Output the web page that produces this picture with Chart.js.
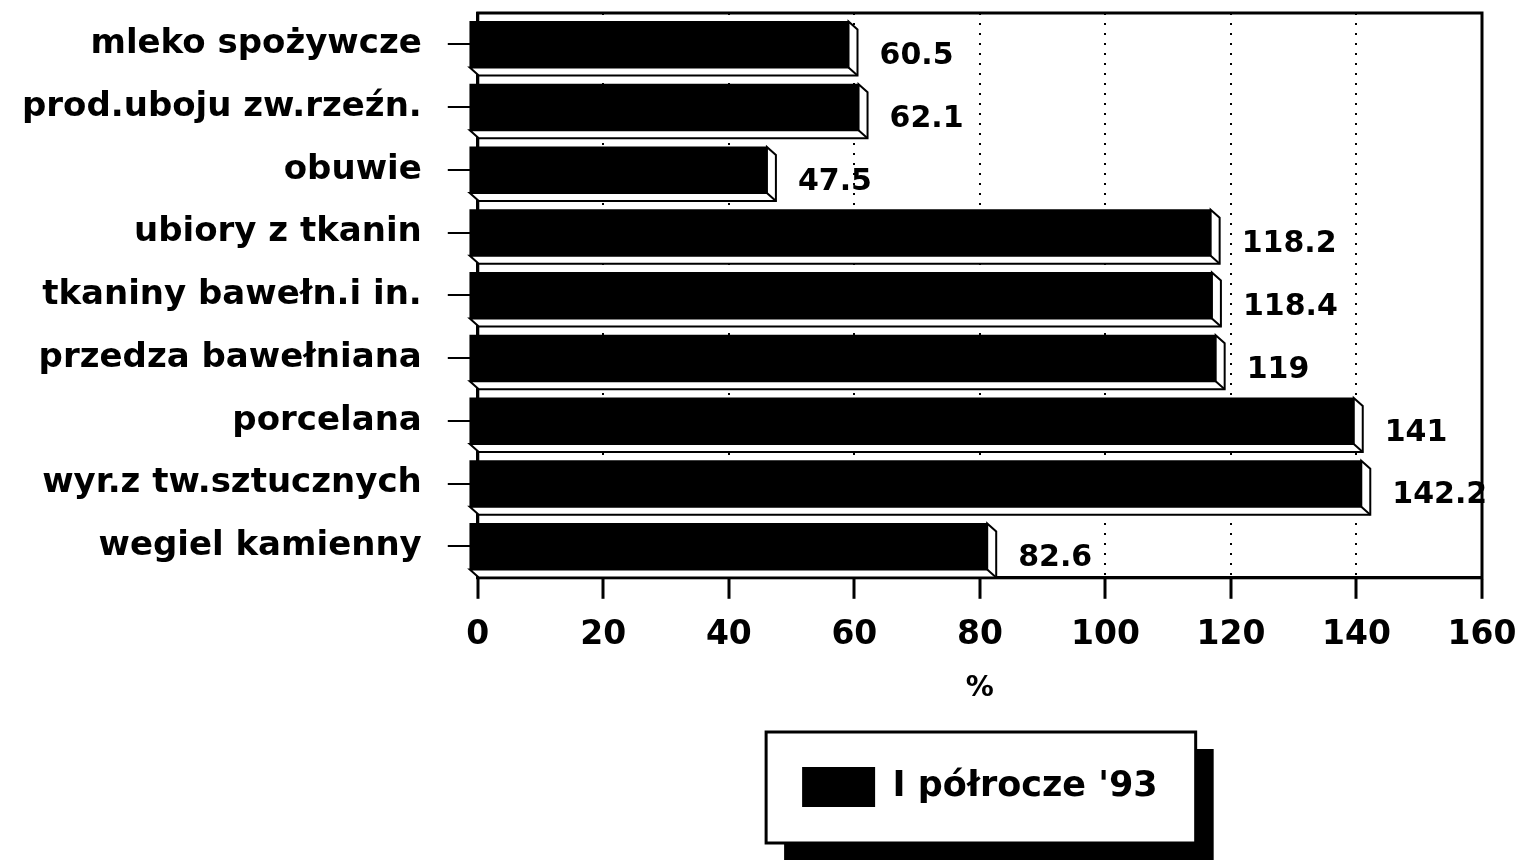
<!DOCTYPE html>
<html lang="pl">
<head>
<meta charset="utf-8">
<title>I półrocze '93</title>
<script src="https://cdn.jsdelivr.net/npm/chart.js@4.4.1/dist/chart.umd.min.js"></script>
<style>
  html, body { margin: 0; padding: 0; background: #fff; }
  #wrap { width: 1526px; height: 860px; position: relative; }
</style>
</head>
<body>
<div id="wrap"><canvas id="chart"></canvas></div>
<script>
// dane
const categories = [
  "mleko spożywcze",
  "prod.uboju zw.rzeźn.",
  "obuwie",
  "ubiory z tkanin",
  "tkaniny bawełn.i in.",
  "przedza bawełniana",
  "porcelana",
  "wyr.z tw.sztucznych",
  "wegiel kamienny",
];
const values = [60.5, 62.1, 47.5, 118.2, 118.4, 119, 141, 142.2, 82.6];
const xTicks = [0, 20, 40, 60, 80, 100, 120, 140, 160];
const seriesName = "I półrocze '93";
const axisTitle = "%";

const FONT = "'DejaVu Sans', sans-serif";
const DX = 9; // głębokość słupka 3D
const DY = 8;

const bars3d = {
  id: "bars3d",
  // ramka legendy z cieniem
  beforeDraw(chart) {
    const hb = chart.legend && chart.legend.legendHitBoxes[0];
    if (!hb) return;
    const ctx = chart.ctx;
    const l = hb.left - 36, t = hb.top - 35, w = hb.width + 74, h = hb.height + 71;
    ctx.save();
    ctx.fillStyle = "#000";
    ctx.fillRect(l + 18, t + 17, w, h);
    ctx.fillStyle = "#fff";
    ctx.fillRect(l, t, w, h);
    ctx.lineWidth = 3;
    ctx.strokeStyle = "#000";
    ctx.strokeRect(l, t, w, h);
    ctx.restore();
  },
  beforeDatasetsDraw(chart) {
    const { ctx, chartArea: a } = chart;
    ctx.save();
    ctx.strokeStyle = "#000";
    ctx.lineWidth = 3;
    ctx.strokeRect(a.left, a.top, a.right - a.left, a.bottom - a.top);
    // boki słupków
    chart.getDatasetMeta(0).data.forEach((bar) => {
      const { x, y, base, height } = bar.getProps(["x", "y", "base", "height"], true);
      const l = base - DX, r = x - DX, t = y - height / 2, b = y + height / 2;
      ctx.beginPath();
      ctx.moveTo(l, b);
      ctx.lineTo(l + DX, b + DY);
      ctx.lineTo(r + DX, b + DY);
      ctx.lineTo(r + DX, t + DY);
      ctx.lineTo(r, t);
      ctx.lineTo(r, b);
      ctx.closePath();
      ctx.fillStyle = "#fff";
      ctx.fill();
      ctx.lineWidth = 2;
      ctx.stroke();
      ctx.beginPath();
      ctx.moveTo(r, b);
      ctx.lineTo(r + DX, b + DY);
      ctx.stroke();
    });
    ctx.restore();
  },
  beforeDatasetDraw(chart) {
    chart.ctx.save();
    chart.ctx.translate(-DX, 0);
  },
  afterDatasetDraw(chart) {
    chart.ctx.restore();
  },
  // wartości przy słupkach
  afterDatasetsDraw(chart) {
    const ctx = chart.ctx;
    ctx.save();
    ctx.font = "bold 30px " + FONT;
    ctx.fillStyle = "#000";
    ctx.textAlign = "left";
    ctx.textBaseline = "middle";
    chart.getDatasetMeta(0).data.forEach((bar, i) => {
      ctx.fillText(String(values[i]), bar.x + 22, bar.y + 12);
    });
    ctx.restore();
  },
};

new Chart(document.getElementById("chart"), {
  type: "bar",
  data: {
    labels: categories,
    datasets: [
      {
        label: seriesName,
        data: values,
        backgroundColor: "#000",
        borderWidth: 0,
        barThickness: 46,
        clip: false,
      },
    ],
  },
  options: {
    indexAxis: "y",
    responsive: true,
    maintainAspectRatio: false,
    animation: false,
    layout: { padding: { top: 13, left: 22, right: 44, bottom: 43 } },
    scales: {
      x: {
        min: xTicks[0],
        max: xTicks[xTicks.length - 1],
        afterFit(scale) {
          scale.paddingLeft = 0;
          scale.paddingRight = 0;
        },
        ticks: {
          stepSize: xTicks[1] - xTicks[0],
          color: "#000",
          font: { family: FONT, size: 33, weight: "bold" },
          padding: 17,
          maxRotation: 0,
        },
        grid: {
          color: "#000",
          lineWidth: 2,
          tickLength: 21,
          tickWidth: 3,
        },
        border: { color: "#000", width: 3, dash: [2, 8] },
        title: {
          display: true,
          text: axisTitle,
          color: "#000",
          font: { family: FONT, size: 28, weight: "bold" },
          padding: 0,
        },
      },
      y: {
        afterFit(scale) {
          scale.width -= scale.options.ticks.padding;
          scale.paddingTop = 0;
          scale.paddingBottom = 0;
        },
        ticks: {
          color: "#000",
          font: { family: FONT, size: 34, weight: "bold" },
          padding: 26,
        },
        grid: {
          offset: false,
          drawOnChartArea: false,
          color: "#000",
          lineWidth: 2,
          tickLength: 30,
        },
        border: { color: "#000", width: 3 },
      },
    },
    plugins: {
      legend: {
        display: true,
        position: "bottom",
        fullSize: false,
        labels: {
          boxWidth: 73,
          boxHeight: 40,
          padding: 61,
          color: "#000",
          font: { family: FONT, size: 35, weight: "bold" },
        },
      },
      tooltip: { enabled: false },
    },
  },
  plugins: [bars3d],
});
</script>
</body>
</html>
